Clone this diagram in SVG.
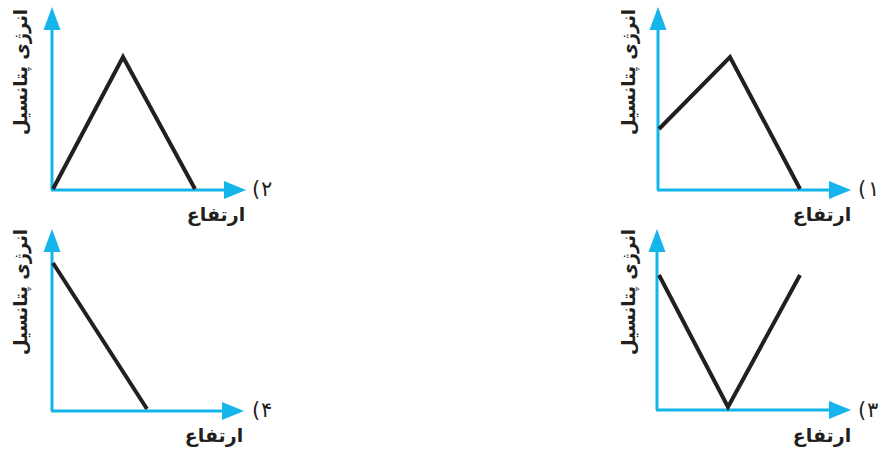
<svg xmlns="http://www.w3.org/2000/svg" width="883" height="451" viewBox="0 0 883 451">
<style>
.ax{stroke:#13b5ea;stroke-width:3;fill:none}
.ah{fill:#13b5ea}
.cv{stroke:#231f20;stroke-width:4;fill:none;stroke-linejoin:miter}
.t{font-family:"DejaVu Sans",sans-serif;font-weight:bold;font-size:19px;fill:#231f20}
.v{font-family:"DejaVu Sans",sans-serif;font-weight:bold;font-size:19px;fill:#231f20}
.n{font-family:"DejaVu Sans",sans-serif;font-size:21px;fill:#231f20}
</style>
<defs>
<polygon id="up" class="ah" points="0,-1 -8.5,22 8.5,22"/>
<polygon id="rt" class="ah" points="1,0 -21,-9 -21,9"/>
</defs>
<g id="graph2">
<line class="ax" x1="52" y1="190" x2="52" y2="25"/>
<line class="ax" x1="51" y1="190" x2="228" y2="190"/>
<use href="#up" x="52" y="8"/>
<use href="#rt" x="245" y="190"/>
<polyline class="cv" points="53,189 123,57 195,189"/>
<text class="n" x="252" y="196">(</text><text class="n" x="261" y="196">۲</text>
<text class="t" x="216" y="221" text-anchor="middle" direction="rtl">ارتفاع</text>
<text class="v" transform="translate(20,72) rotate(-90)" text-anchor="middle" dominant-baseline="central" direction="rtl" textLength="126" lengthAdjust="spacingAndGlyphs">انرژی پتانسیل</text>
</g>
<g id="graph1">
<line class="ax" x1="658" y1="190" x2="658" y2="25"/>
<line class="ax" x1="657" y1="190" x2="833" y2="190"/>
<use href="#up" x="658" y="8"/>
<use href="#rt" x="850" y="190"/>
<polyline class="cv" points="659,129 730,57 800,189"/>
<text class="n" x="858" y="196">(</text><text class="n" x="868" y="196">۱</text>
<text class="t" x="822" y="221" text-anchor="middle" direction="rtl">ارتفاع</text>
<text class="v" transform="translate(628,72) rotate(-90)" text-anchor="middle" dominant-baseline="central" direction="rtl" textLength="126" lengthAdjust="spacingAndGlyphs">انرژی پتانسیل</text>
</g>
<g id="graph4">
<line class="ax" x1="52" y1="411" x2="52" y2="247"/>
<line class="ax" x1="51" y1="411" x2="226" y2="411"/>
<use href="#up" x="52" y="230"/>
<use href="#rt" x="243" y="411"/>
<polyline class="cv" points="53,263 147,409"/>
<text class="n" x="252" y="417">(</text><text class="n" x="261" y="417">۴</text>
<text class="t" x="214" y="442" text-anchor="middle" direction="rtl">ارتفاع</text>
<text class="v" transform="translate(20,292) rotate(-90)" text-anchor="middle" dominant-baseline="central" direction="rtl" textLength="126" lengthAdjust="spacingAndGlyphs">انرژی پتانسیل</text>
</g>
<g id="graph3">
<line class="ax" x1="657" y1="410" x2="657" y2="247"/>
<line class="ax" x1="656" y1="410" x2="833" y2="410"/>
<use href="#up" x="657" y="230"/>
<use href="#rt" x="850" y="410"/>
<polyline class="cv" points="659,275 728,407 800,275"/>
<text class="n" x="858" y="417">(</text><text class="n" x="867" y="417">۳</text>
<text class="t" x="822" y="442" text-anchor="middle" direction="rtl">ارتفاع</text>
<text class="v" transform="translate(628,292) rotate(-90)" text-anchor="middle" dominant-baseline="central" direction="rtl" textLength="126" lengthAdjust="spacingAndGlyphs">انرژی پتانسیل</text>
</g>
</svg>
